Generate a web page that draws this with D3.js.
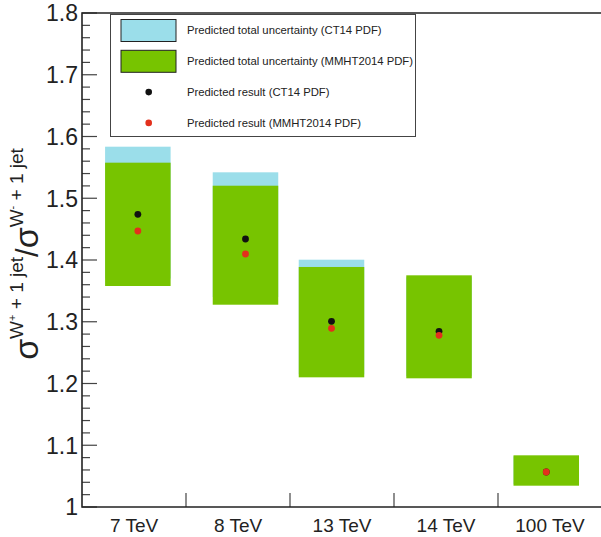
<!DOCTYPE html>
<html>
<head>
<meta charset="utf-8">
<script src="https://cdn.jsdelivr.net/npm/d3@7"></script>
<style>
    body { margin: 0; background: #fff; }
    svg { display: block; font-family: "Liberation Sans", Arial, Helvetica, sans-serif; }
</style>
</head>
<body>
<svg width="601" height="537"></svg>
<script>
// 数据
var energies = ["7 TeV", "8 TeV", "13 TeV", "14 TeV", "100 TeV"];
// bar centre along the category axis (bin units)
var barCenter = [0.537, 1.572, 2.399, 3.433, 4.464];
var ct14Up = [1.5835, 1.542, 1.4005, 1.372, 1.082];
var ct14Down = [1.37, 1.34, 1.215, 1.212, 1.037];
var mmhtUp = [1.5576, 1.5203, 1.3887, 1.3752, 1.0837];
var mmhtDown = [1.3579, 1.3276, 1.210, 1.2084, 1.0345];
var ct14Central = [1.474, 1.434, 1.3007, 1.2845, 1.0567];
var mmhtCentral = [1.447, 1.4097, 1.2894, 1.278, 1.0567];
var yTicks = [1, 1.1, 1.2, 1.3, 1.4, 1.5, 1.6, 1.7, 1.8];
var legendItems = [
    {type: "box", color: "#9bdeea", label: "Predicted total uncertainty (CT14 PDF)"},
    {type: "box", color: "#77c400", label: "Predicted total uncertainty (MMHT2014 PDF)"},
    {type: "dot", color: "#111111", label: "Predicted result (CT14 PDF)"},
    {type: "dot", color: "#e3301c", label: "Predicted result (MMHT2014 PDF)"}
];

var svg = d3.select("svg");
var padL = 82, padR = 602, padT = 13, padB = 507;

var x = d3.scaleLinear().domain([0, 5]).range([padL, padR]);
var y = d3.scaleLinear().domain([1, 1.8]).range([padB, padT]);
var barW = 0.63;

var rows = energies.map(function (e, i) {
    return {
        name: e, c: barCenter[i],
        ctUp: ct14Up[i], ctDown: ct14Down[i],
        mmUp: mmhtUp[i], mmDown: mmhtDown[i],
        ct: ct14Central[i], mm: mmhtCentral[i]
    };
});

//不确定度 CT14
svg.append("g").selectAll("rect")
    .data(rows)
    .enter().append("rect")
    .attr("x", function (d) { return x(d.c - barW / 2) })
    .attr("width", function (d) { return x(barW) - x(0) })
    .attr("y", function (d) { return y(d.ctUp) })
    .attr("height", function (d) { return y(d.ctDown) - y(d.ctUp) })
    .attr("fill", "#9bdeea");

//不确定度 MMHT2014
svg.append("g").selectAll("rect")
    .data(rows)
    .enter().append("rect")
    .attr("x", function (d) { return x(d.c - barW / 2) })
    .attr("width", function (d) { return x(barW) - x(0) })
    .attr("y", function (d) { return y(d.mmUp) })
    .attr("height", function (d) { return y(d.mmDown) - y(d.mmUp) })
    .attr("fill", "#77c400");

//中心值
svg.append("g").selectAll("circle")
    .data(rows)
    .enter().append("circle")
    .attr("cx", function (d) { return x(d.c) })
    .attr("cy", function (d) { return y(d.ct) })
    .attr("r", 3.4)
    .attr("fill", "#111111");

svg.append("g").selectAll("circle")
    .data(rows)
    .enter().append("circle")
    .attr("cx", function (d) { return x(d.c) })
    .attr("cy", function (d) { return y(d.mm) })
    .attr("r", 3.4)
    .attr("fill", "#e3301c");

//坐标轴
var yMinor = d3.range(0, 41).map(function (i) { return 1 + i * 0.02 });
svg.append("g").selectAll("line")
    .data(yMinor)
    .enter().append("line")
    .attr("x1", padL)
    .attr("x2", function (d, i) { return i % 5 == 0 ? padL + 15 : padL + 8 })
    .attr("y1", function (d) { return y(d) })
    .attr("y2", function (d) { return y(d) })
    .attr("stroke", "#444")
    .attr("stroke-width", 1.2);

svg.append("g").selectAll("text")
    .data(yTicks)
    .enter().append("text")
    .attr("x", padL - 4)
    .attr("y", function (d) { return y(d) })
    .attr("dy", ".36em")
    .attr("text-anchor", "end")
    .attr("font-size", 23)
    .attr("fill", "#222")
    .text(function (d) { return d3.format("")(d) });

svg.append("g").selectAll("line")
    .data(d3.range(1, 5))
    .enter().append("line")
    .attr("x1", function (d) { return x(d) })
    .attr("x2", function (d) { return x(d) })
    .attr("y1", padB)
    .attr("y2", padB - 14)
    .attr("stroke", "#444")
    .attr("stroke-width", 1.2);

svg.append("g").selectAll("text")
    .data(energies)
    .enter().append("text")
    .attr("x", function (d, i) { return x(i + 0.5) })
    .attr("y", 532)
    .attr("text-anchor", "middle")
    .attr("font-size", 19)
    .attr("fill", "#222")
    .text(function (d) { return d });

svg.append("path")
    .attr("d", "M" + 601 + "," + padT + "H" + padL + "V" + padB + "H" + 601)
    .attr("fill", "none")
    .attr("stroke", "#222")
    .attr("stroke-width", 1.6);

//纵轴标题
var title = svg.append("text")
    .attr("transform", "translate(38,254) rotate(-90)")
    .attr("text-anchor", "middle")
    .attr("fill", "#222");
title.append("tspan").attr("font-size", 34).text("σ");
title.append("tspan").attr("font-size", 19).attr("dy", -15).text("W");
title.append("tspan").attr("font-size", 11).attr("dy", -7).text("+");
title.append("tspan").attr("font-size", 19).attr("dy", 7).text(" + 1 jet");
title.append("tspan").attr("font-size", 31).attr("dy", 15).text("/");
title.append("tspan").attr("font-size", 34).text("σ");
title.append("tspan").attr("font-size", 19).attr("dy", -15).text("W");
title.append("tspan").attr("font-size", 11).attr("dy", -7).text("-");
title.append("tspan").attr("font-size", 19).attr("dy", 7).text(" + 1 jet");

//图例
var legend = svg.append("g");
legend.append("rect")
    .attr("x", 110.5).attr("y", 14.5)
    .attr("width", 305).attr("height", 122)
    .attr("fill", "#fff")
    .attr("stroke", "#444")
    .attr("stroke-width", 1);

var item = legend.selectAll("g.item")
    .data(legendItems)
    .enter().append("g")
    .classed("item", true)
    .attr("transform", function (d, i) { return "translate(0," + (30.5 + i * 30.8) + ")" });

item.filter(function (d) { return d.type == "box" })
    .append("rect")
    .attr("x", 121).attr("y", -11)
    .attr("width", 55).attr("height", 22)
    .attr("fill", function (d) { return d.color })
    .attr("stroke", "#222")
    .attr("stroke-width", 1);

item.filter(function (d) { return d.type == "dot" })
    .append("circle")
    .attr("cx", 148.7).attr("cy", 0)
    .attr("r", 3.3)
    .attr("fill", function (d) { return d.color });

item.append("text")
    .attr("x", 187)
    .attr("dy", ".35em")
    .attr("font-size", 11.3)
    .attr("fill", "#222")
    .text(function (d) { return d.label });
</script>
</body>
</html>
